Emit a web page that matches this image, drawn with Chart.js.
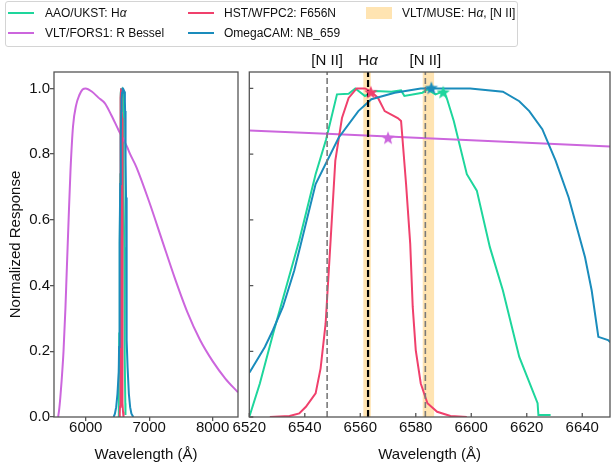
<!DOCTYPE html>
<html>
<head>
<meta charset="utf-8">
<script src="https://cdn.jsdelivr.net/npm/chart.js@4.4.0/dist/chart.umd.min.js"></script>
<style>
  body { margin:0; width:614px; height:469px; overflow:hidden; background:#fff; position:relative;
         font-family:'Liberation Sans', Arial, sans-serif; color:#111 }
  #leftChart { position:absolute; left:0; top:0 }
  #rightChart { position:absolute; left:220px; top:0 }
  .legend-box { position:absolute; left:5px; top:1px; width:511px; height:44px; border:1px solid #d4d4d4; border-radius:3px; background:rgba(255,255,255,0.8) }
  .lg-line { position:absolute; width:26px; height:2px }
  .lg-patch { position:absolute; width:26px; height:12px; background:#ffe4b2 }
  .lg-text { position:absolute; font-size:12px; line-height:14px; white-space:nowrap }
</style>
</head>
<body>
<canvas id="leftChart" width="242" height="469"></canvas>
<canvas id="rightChart" width="397" height="469"></canvas>

<div class="legend-box"></div>
<div class="lg-line" style="left:8px;top:12px;background:#1ed69c"></div>
<div class="lg-text" style="left:45px;top:6px">AAO/UKST: H<i>α</i></div>
<div class="lg-line" style="left:8px;top:32px;background:#cc66dd"></div>
<div class="lg-text" style="left:45px;top:26px">VLT/FORS1: R Bessel</div>
<div class="lg-line" style="left:188px;top:12px;background:#f0406c"></div>
<div class="lg-text" style="left:224px;top:6px">HST/WFPC2: F656N</div>
<div class="lg-line" style="left:188px;top:32px;background:#1a8cbc"></div>
<div class="lg-text" style="left:224px;top:26px">OmegaCAM: NB_659</div>
<div class="lg-patch" style="left:366px;top:7px"></div>
<div class="lg-text" style="left:402px;top:6px">VLT/MUSE: H<i>α</i>, [N II]</div>

<script>
const green = '#1ed69c', purple = '#cc66dd', red = '#f0406c', blue = '#1a8cbc'
const spine = '#555'

// tick labels
const leftXTicks = [6000, 7000, 8000]
const rightXTicks = [6520, 6540, 6560, 6580, 6600, 6620, 6640]
const yTicks = [0, 0.2, 0.4, 0.6, 0.8, 1.0]

// AAO/UKST Halpha
const aaoWave = [6510, 6520.2, 6523.8, 6528.6, 6538, 6543.9, 6547.7, 6551.6, 6555.8, 6558.2, 6561.7, 6565.3, 6571.2, 6574.7, 6575.9, 6582.4, 6584.2, 6587.1, 6590.1, 6591.3, 6593.7, 6598.4, 6602, 6606.7, 6611.4, 6617.3, 6623.9, 6624.2, 6628.6]
const aaoResp = [0, 0.006, 0.102, 0.254, 0.537, 0.739, 0.845, 0.982, 0.984, 1.0, 0.977, 0.992, 0.99, 0.994, 0.977, 0.987, 0.997, 0.982, 0.992, 0.967, 0.901, 0.739, 0.689, 0.517, 0.385, 0.183, 0.042, 0.006, 0.006]

// VLT/FORS1 R Bessel
const forsWave = [5565, 5580, 5600, 5620, 5650, 5680, 5700, 5730, 5760, 5800, 5850, 5900, 5950, 6000, 6100, 6200, 6300, 6400, 6500, 6520, 6550, 6600, 6650, 6700, 6800, 7000, 7200, 7400, 7600, 7800, 8000, 8200, 8400]
const forsResp = [0, 0.02, 0.06, 0.11, 0.2, 0.33, 0.44, 0.6, 0.75, 0.885, 0.95, 0.98, 0.997, 1.0, 0.99, 0.972, 0.955, 0.92, 0.88, 0.872, 0.861, 0.842, 0.823, 0.8, 0.76, 0.655, 0.54, 0.425, 0.32, 0.235, 0.17, 0.117, 0.075]

// HST/WFPC2 F656N
const hstWave = [6527.4, 6534.5, 6538, 6540.4, 6543.9, 6545.7, 6547.5, 6549.3, 6551, 6553.4, 6555.8, 6558.7, 6561.7, 6564, 6566.4, 6568.8, 6573.5, 6574.7, 6576.5, 6578, 6578.9, 6580, 6581.8, 6584.2, 6587.7, 6592.5, 6598.4]
const hstResp = [0, 0.003, 0.011, 0.031, 0.072, 0.148, 0.284, 0.537, 0.78, 0.91, 0.971, 1.0, 1.0, 0.99, 0.971, 0.931, 0.91, 0.901, 0.709, 0.527, 0.335, 0.203, 0.102, 0.042, 0.016, 0.003, 0]

// OmegaCAM NB_659
const omegaWave = [6440, 6460, 6480, 6500, 6520.2, 6525.6, 6528.5, 6532.1, 6536.2, 6538.6, 6543.9, 6552.2, 6559.3, 6564, 6572.4, 6581.8, 6587.7, 6599.6, 6611.4, 6617.3, 6620.9, 6625.6, 6630.4, 6635.1, 6641, 6643.4, 6645.8, 6649.3, 6660, 6680, 6700, 6720, 6750]
const omegaResp = [0, 0.01, 0.03, 0.07, 0.137, 0.213, 0.264, 0.335, 0.446, 0.527, 0.709, 0.85, 0.931, 0.967, 0.987, 1.0, 1.0, 1.0, 0.99, 0.961, 0.931, 0.876, 0.78, 0.668, 0.486, 0.385, 0.244, 0.234, 0.15, 0.07, 0.03, 0.01, 0]

// star markers: AAO, FORS1, HST, OmegaCAM
const starWave = [6589.9, 6570, 6563.8, 6585.6]
const starResp = [0.987, 0.848, 0.987, 1.0]
const starColors = [green, purple, red, blue]

// emission lines and MUSE windows
const lineWave = [6548.05, 6562.8, 6583.45]
const lineName = ['[N II]', 'Hα', '[N II]']
const museLo = [6561.1, 6582.5]
const museHi = [6563.8, 6586.6]

Chart.defaults.font.family = "'Liberation Sans', Arial, sans-serif"
Chart.defaults.color = '#111'

function pts(w, r) { return w.map((x, i) => ({ x: x, y: r[i] })) }

function makeStar(color, r) {
  const c = document.createElement('canvas')
  c.width = c.height = r * 2 + 2
  const g = c.getContext('2d')
  g.beginPath()
  for (let i = 0; i < 10; i++) {
    const a = -Math.PI / 2 + i * Math.PI / 5
    const rr = i % 2 ? r * 0.42 : r
    g.lineTo(r + 1 + rr * Math.cos(a), r + 1 + rr * Math.sin(a))
  }
  g.closePath()
  g.fillStyle = color
  g.fill()
  return c
}

const framePlugin = {
  id: 'frame',
  afterDraw(chart, args, opts) {
    const { ctx, chartArea: a, scales } = chart
    ctx.save()
    ctx.strokeStyle = spine
    ctx.lineWidth = 1.3
    if (opts.inward) {
      ctx.beginPath()
      scales.x.ticks.forEach(t => {
        const px = scales.x.getPixelForValue(t.value)
        ctx.moveTo(px, a.bottom); ctx.lineTo(px, a.bottom - 4)
      })
      scales.y.ticks.forEach(t => {
        const py = scales.y.getPixelForValue(t.value)
        ctx.moveTo(a.left, py); ctx.lineTo(a.left + 4, py)
      })
      ctx.stroke()
    }
    ctx.strokeRect(a.left, a.top, a.right - a.left, a.bottom - a.top)
    ctx.restore()
  }
}

const bandPlugin = {
  id: 'bands',
  beforeDatasetsDraw(chart) {
    const { ctx, chartArea: a, scales } = chart
    ctx.save()
    ctx.fillStyle = '#ffe4b2'
    museLo.forEach((lo, i) => {
      const x0 = scales.x.getPixelForValue(lo), x1 = scales.x.getPixelForValue(museHi[i])
      ctx.fillRect(x0, a.top, x1 - x0, a.bottom - a.top)
    })
    ctx.restore()
  }
}

const lineLabelPlugin = {
  id: 'lineLabels',
  afterDraw(chart) {
    const { ctx, chartArea: a, scales } = chart
    ctx.save()
    ctx.fillStyle = '#111'
    ctx.textBaseline = 'middle'
    const y = a.top - 11
    lineWave.forEach((w, i) => {
      const x = scales.x.getPixelForValue(w)
      const name = lineName[i]
      if (name === 'Hα') {
        ctx.font = "15px 'Liberation Sans', Arial, sans-serif"
        const wH = ctx.measureText('H').width
        ctx.font = "italic 15px 'Liberation Sans', Arial, sans-serif"
        const wA = ctx.measureText('α').width
        const x0 = x - (wH + wA) / 2
        ctx.textAlign = 'left'
        ctx.font = "15px 'Liberation Sans', Arial, sans-serif"
        ctx.fillText('H', x0, y)
        ctx.font = "italic 15px 'Liberation Sans', Arial, sans-serif"
        ctx.fillText('α', x0 + wH, y)
      } else {
        ctx.font = "15px 'Liberation Sans', Arial, sans-serif"
        ctx.textAlign = 'center'
        ctx.fillText(name, x, y)
      }
    })
    ctx.restore()
  }
}

function curveSets(smooth) {
  const base = { pointRadius: 0, borderWidth: 2, fill: false, tension: 0 }
  return [
    Object.assign({}, base, { data: pts(omegaWave, omegaResp), borderColor: blue }),
    Object.assign({}, base, { data: pts(hstWave, hstResp), borderColor: red }),
    Object.assign({}, base, { data: pts(forsWave, forsResp), borderColor: purple,
      cubicInterpolationMode: smooth ? 'monotone' : 'default' }),
    Object.assign({}, base, { data: pts(aaoWave, aaoResp), borderColor: green })
  ]
}

function yScale(showLabels) {
  return {
    type: 'linear', min: 0, max: 1.05,
    afterBuildTicks: s => { s.ticks = yTicks.map(v => ({ value: v })) },
    afterFit: s => { s.width = showLabels ? 54 : 0 },
    border: { display: false },
    grid: { drawOnChartArea: false, drawTicks: showLabels, tickLength: 4, color: spine, lineWidth: 1.3 },
    ticks: { display: showLabels, padding: 0, font: { size: 15 }, color: '#111', callback: v => v.toFixed(1) },
    title: { display: showLabels, text: 'Normalized Response', font: { size: 15 }, color: '#111', padding: { top: 7, bottom: 0 } }
  }
}

function xScale(min, max, tickVals, outward) {
  return {
    type: 'linear', min: min, max: max,
    afterBuildTicks: s => { s.ticks = tickVals.map(v => ({ value: v })) },
    afterFit: s => { s.height = 52 },
    border: { display: false },
    grid: { display: outward, drawOnChartArea: false, drawTicks: outward, tickLength: 4, color: spine, lineWidth: 1.3 },
    ticks: { padding: outward ? -2 : 2, font: { size: 15 }, color: '#111', maxRotation: 0, autoSkip: false, callback: v => String(v) },
    title: { display: true, text: 'Wavelength (Å)', font: { size: 15 }, color: '#111', padding: { top: 0, bottom: 5 } }
  }
}

const common = {
  responsive: false,
  animation: false,
  events: [],
  plugins: { legend: { display: false }, tooltip: { enabled: false } }
}

new Chart(document.getElementById('leftChart'), {
  type: 'line',
  data: { datasets: curveSets(true) },
  options: Object.assign({}, common, {
    layout: { padding: { left: 0, top: 72, right: 4, bottom: 0 } },
    plugins: Object.assign({}, common.plugins, { frame: { inward: false } }),
    scales: { x: xScale(5500, 8400, leftXTicks, true), y: yScale(true) }
  }),
  plugins: [framePlugin]
})

const starSets = starWave.map((w, i) => ({
  data: [{ x: w, y: starResp[i] }],
  showLine: false,
  pointStyle: makeStar(starColors[i], 7),
  pointRadius: 7,
  borderWidth: 0
}))

const vlineSets = lineWave.map((w, i) => ({
  data: [{ x: w, y: 0 }, { x: w, y: 1.05 }],
  pointRadius: 0,
  borderColor: i === 1 ? '#000' : '#7a7a7a',
  borderWidth: i === 1 ? 2.2 : 1.6,
  borderDash: i === 1 ? [7, 3] : [6, 3],
  fill: false
}))

new Chart(document.getElementById('rightChart'), {
  type: 'line',
  data: { datasets: starSets.concat(vlineSets, curveSets(false)) },
  options: Object.assign({}, common, {
    layout: { padding: { left: 29.3, top: 72, right: 1.7, bottom: 0 } },
    plugins: Object.assign({}, common.plugins, { frame: { inward: true } }),
    scales: { x: xScale(6520, 6650, rightXTicks, false), y: yScale(false) }
  }),
  plugins: [bandPlugin, framePlugin, lineLabelPlugin]
})
</script>
</body>
</html>
